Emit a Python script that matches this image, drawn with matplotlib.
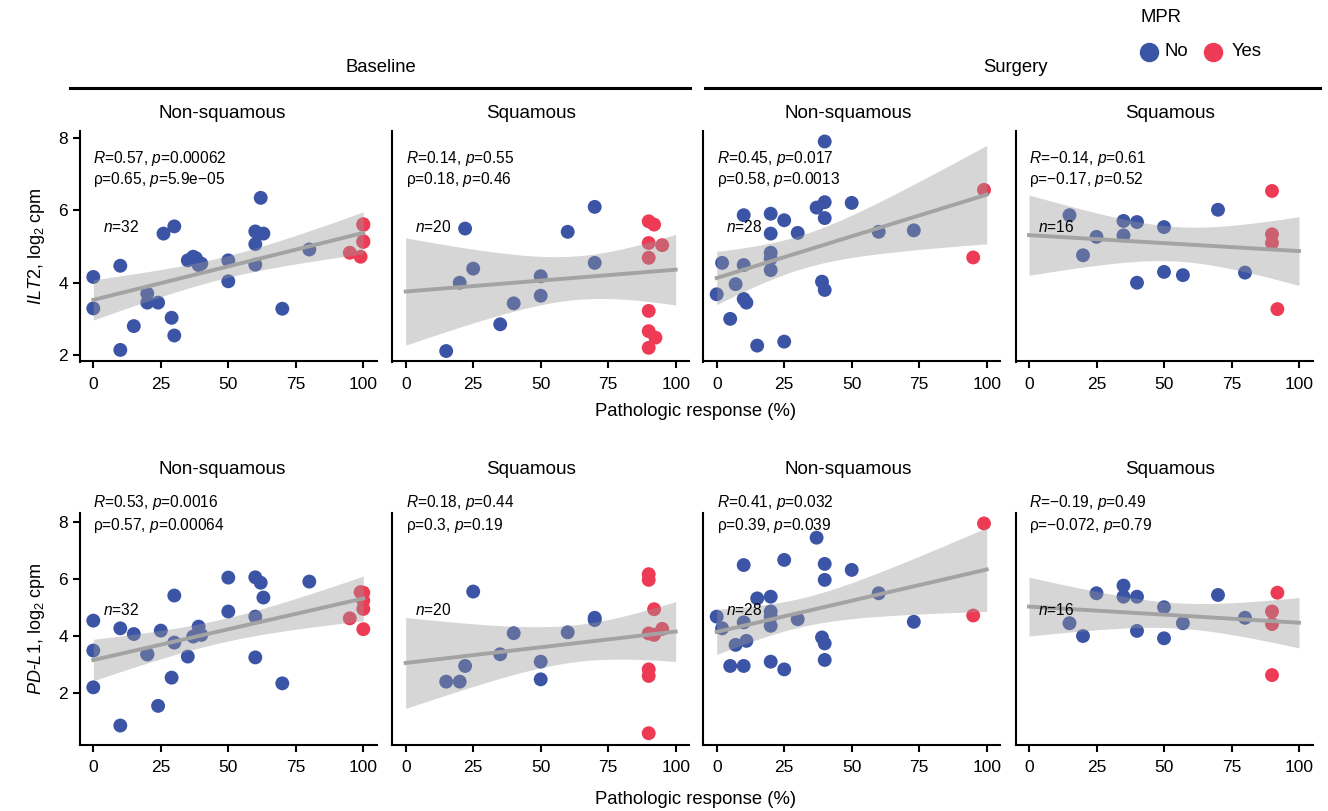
import numpy as np
import matplotlib
matplotlib.use("Agg")
import matplotlib.pyplot as plt
from matplotlib.lines import Line2D

plt.rcParams['font.family'] = ['Liberation Sans', 'DejaVu Sans']
plt.rcParams['mathtext.fontset'] = 'custom'
plt.rcParams['mathtext.rm'] = 'Liberation Sans'
plt.rcParams['mathtext.it'] = 'Liberation Sans:italic'

BLUE = "#3C54A5"
RED = "#EE3B55"

# ---- data: (pathologic response %, log2 cpm) per panel, split by MPR ----
# ILT2, baseline, non-squamous
ilt2_bn_no_x = [0, 0, 10, 10, 15, 20, 20, 24, 26, 29, 30, 30, 35, 37, 38, 39, 40, 50, 50, 60, 63, 60, 60, 62, 70, 80]
ilt2_bn_no_y = [4.16, 3.29, 4.47, 2.14, 2.80, 3.70, 3.45, 3.45, 5.36, 3.03, 5.56, 2.54, 4.62, 4.72, 4.68, 4.49, 4.53,
                4.62, 4.04, 5.42, 5.36, 5.07, 4.50, 6.35, 3.28, 4.92]
ilt2_bn_yes_x = [95, 100, 100, 100, 100, 99]
ilt2_bn_yes_y = [4.83, 5.62, 5.60, 5.13, 5.15, 4.72]

# ILT2, baseline, squamous
ilt2_bs_no_x = [22, 25, 20, 15, 35, 40, 50, 50, 60, 70, 70]
ilt2_bs_no_y = [5.50, 4.39, 4.00, 2.11, 2.85, 3.43, 4.18, 3.64, 5.41, 6.10, 4.55]
ilt2_bs_yes_x = [90, 92, 90, 95, 90, 90, 90, 92.5, 90]
ilt2_bs_yes_y = [5.70, 5.61, 5.10, 5.04, 4.69, 3.22, 2.66, 2.48, 2.20]

# ILT2, surgery, non-squamous
ilt2_sn_no_x = [40, 10, 20, 25, 20, 30, 37, 40, 40, 50, 60, 73, 2, 10, 20, 20, 20, 7, 0, 10, 11, 5, 39, 40, 15, 25]
ilt2_sn_no_y = [7.91, 5.87, 5.91, 5.73, 5.36, 5.38, 6.08, 6.23, 5.79, 6.21, 5.41, 5.45, 4.55, 4.49, 4.83, 4.67,
                4.35, 3.96, 3.68, 3.55, 3.45, 3.00, 4.03, 3.80, 2.26, 2.37]
ilt2_sn_yes_x = [99, 95]
ilt2_sn_yes_y = [6.57, 4.70]

# ILT2, surgery, squamous
ilt2_ss_no_x = [15, 20, 25, 35, 35, 40, 40, 50, 50, 57, 70, 80]
ilt2_ss_no_y = [5.87, 4.76, 5.27, 5.71, 5.31, 5.68, 4.00, 5.54, 4.30, 4.21, 6.02, 4.28]
ilt2_ss_yes_x = [90, 90, 90, 92]
ilt2_ss_yes_y = [6.54, 5.34, 5.10, 3.27]

# PD-L1, baseline, non-squamous
pdl1_bn_no_x = [0, 0, 0, 10, 10, 15, 20, 20, 24, 25, 29, 30, 30, 35, 37, 39, 40, 50, 50, 60, 62, 63, 60, 60, 70, 80]
pdl1_bn_no_y = [4.55, 3.50, 2.21, 4.28, 0.87, 4.08, 3.38, 3.36, 1.56, 4.20, 2.55, 5.43, 3.78, 3.29, 3.99, 4.34,
                4.05, 6.06, 4.87, 6.07, 5.88, 5.36, 4.69, 3.26, 2.35, 5.92]
pdl1_bn_yes_x = [95, 99, 100, 100, 100, 100]
pdl1_bn_yes_y = [4.63, 5.55, 5.53, 5.25, 4.96, 4.25]

# PD-L1, baseline, squamous
pdl1_bs_no_x = [25, 15, 20, 22, 35, 40, 50, 50, 60, 70, 70]
pdl1_bs_no_y = [5.57, 2.41, 2.41, 2.96, 3.37, 4.11, 3.11, 2.49, 4.14, 4.65, 4.57]
pdl1_bs_yes_x = [90, 90, 92, 95, 92, 90, 90, 90, 90]
pdl1_bs_yes_y = [6.18, 5.98, 4.95, 4.26, 4.05, 4.10, 2.84, 2.61, 0.60]

# PD-L1, surgery, non-squamous
pdl1_sn_no_x = [0, 2, 10, 25, 37, 40, 40, 50, 15, 20, 20, 20, 20, 10, 30, 60, 73, 7, 11, 39, 40, 5, 10, 20, 25, 40]
pdl1_sn_no_y = [4.69, 4.28, 6.50, 6.68, 7.46, 6.54, 5.98, 6.33, 5.33, 5.39, 4.87, 4.69, 4.37, 4.49, 4.60, 5.51,
                4.51, 3.70, 3.84, 3.96, 3.75, 2.96, 2.96, 3.11, 2.84, 3.17]
pdl1_sn_yes_x = [99, 95]
pdl1_sn_yes_y = [7.96, 4.73]

# PD-L1, surgery, squamous
pdl1_ss_no_x = [15, 20, 25, 35, 35, 40, 40, 50, 50, 57, 70, 80]
pdl1_ss_no_y = [4.46, 4.01, 5.51, 5.78, 5.39, 5.39, 4.19, 5.02, 3.93, 4.46, 5.45, 4.65]
pdl1_ss_yes_x = [92, 90, 90, 90]
pdl1_ss_yes_y = [5.53, 4.87, 4.43, 2.64]

stat_labels = [
    ("0.57", "0.00062", "0.65", "5.9e\u221205"),
    ("0.14", "0.55", "0.18", "0.46"),
    ("0.45", "0.017", "0.58", "0.0013"),
    ("\u22120.14", "0.61", "\u22120.17", "0.52"),
    ("0.53", "0.0016", "0.57", "0.00064"),
    ("0.18", "0.44", "0.3", "0.19"),
    ("0.41", "0.032", "0.39", "0.039"),
    ("\u22120.19", "0.49", "\u22120.072", "0.79"),
]
strip_titles = ["Non-squamous", "Squamous", "Non-squamous", "Squamous"]
genes = ["ILT2", "PD-L1"]

panels = [
    (ilt2_bn_no_x, ilt2_bn_no_y, ilt2_bn_yes_x, ilt2_bn_yes_y),
    (ilt2_bs_no_x, ilt2_bs_no_y, ilt2_bs_yes_x, ilt2_bs_yes_y),
    (ilt2_sn_no_x, ilt2_sn_no_y, ilt2_sn_yes_x, ilt2_sn_yes_y),
    (ilt2_ss_no_x, ilt2_ss_no_y, ilt2_ss_yes_x, ilt2_ss_yes_y),
    (pdl1_bn_no_x, pdl1_bn_no_y, pdl1_bn_yes_x, pdl1_bn_yes_y),
    (pdl1_bs_no_x, pdl1_bs_no_y, pdl1_bs_yes_x, pdl1_bs_yes_y),
    (pdl1_sn_no_x, pdl1_sn_no_y, pdl1_sn_yes_x, pdl1_sn_yes_y),
    (pdl1_ss_no_x, pdl1_ss_no_y, pdl1_ss_yes_x, pdl1_ss_yes_y),
]


def t975(df):
    """Approximate 97.5% quantile of Student's t"""
    z = 1.959964
    g1 = (z**3 + z) / 4
    g2 = (5 * z**5 + 16 * z**3 + 3 * z) / 96
    g3 = (3 * z**7 + 19 * z**5 + 17 * z**3 - 15 * z) / 384
    return z + g1 / df + g2 / df**2 + g3 / df**3


def lm_band(x, y, grid):
    n = len(x)
    slope, icpt = np.polyfit(x, y, 1)
    fit = icpt + slope * grid
    resid = y - (icpt + slope * x)
    s = np.sqrt(np.sum(resid**2) / (n - 2))
    se = s * np.sqrt(1 / n + (grid - x.mean())**2 / np.sum((x - x.mean())**2))
    return fit, t975(n - 2) * se


W, H = 1328, 811
fig = plt.figure(figsize=(W / 100, H / 100), dpi=100)

lefts = [79.8, 392.2, 703.2, 1015.5]
pw = 297
rows = [(131, 361.5, (1.82, 8.2)), (512.6, 745.2, (0.18, 8.34))]
strip_x = [222, 531, 848, 1170]
strip_y = [113, 470]
stat_y = [(7.43, 6.85), (8.68, 7.9)]
n_y = [5.55, 4.92]
xlab_y = [412, 800]

grid = np.linspace(0, 100, 200)

for i, (bx, by, rx, ry) in enumerate(panels):
    r, c = divmod(i, 4)
    top, bot, ylim = rows[r]
    ax = fig.add_axes([lefts[c] / W, 1 - bot / H, pw / W, (bot - top) / H])
    ax.scatter(bx, by, s=100, color=BLUE, edgecolors='none', zorder=2, clip_on=False)
    ax.scatter(rx, ry, s=100, color=RED, edgecolors='none', zorder=2, clip_on=False)

    x = np.array(bx + rx, dtype=float)
    y = np.array(by + ry, dtype=float)
    fit, half = lm_band(x, y, grid)
    ax.fill_between(grid, fit - half, fit + half, color='#999999', alpha=0.4, lw=0, zorder=3)
    ax.plot(grid, fit, color='#A3A3A3', lw=2.8, zorder=4)

    R, p1, rho, p2 = stat_labels[i]
    ax.text(0, stat_y[r][0], r"$\it{R}$=" + R + r", $\it{p}$=" + p1, fontsize=11.2, va='center', ha='left',
            zorder=5, clip_on=False)
    ax.text(0, stat_y[r][1], "\u03c1=" + rho + r", $\it{p}$=" + p2, fontsize=11.2, va='center', ha='left',
            zorder=5, clip_on=False)
    ax.text(3.5, n_y[r], r"$\it{n}$=" + str(len(x)), fontsize=11.2, va='center', ha='left', zorder=5)

    ax.set_xlim(-5, 105)
    ax.set_ylim(*ylim)
    ax.set_xticks([0, 25, 50, 75, 100])
    ax.set_yticks([2, 4, 6, 8])
    for side in ['top', 'right']:
        ax.spines[side].set_visible(False)
    for side in ['left', 'bottom']:
        ax.spines[side].set_linewidth(1.5)
    ax.tick_params(axis='both', width=1.5, length=5, labelsize=12.5, color='black')
    ax.tick_params(axis='x', pad=6)
    if c != 0:
        ax.tick_params(axis='y', left=False, labelleft=False)
    else:
        ax.set_ylabel(r"$\it{" + genes[r].replace("-", "\u2010") + "}$, log$_2$ cpm", fontsize=13, labelpad=8)

    fig.text(strip_x[c] / W, 1 - strip_y[r] / H, strip_titles[c], fontsize=13.6, ha='center', va='center')

for r in range(2):
    fig.text(695.8 / W, 1 - xlab_y[r] / H, "Pathologic response (%)", fontsize=13.3, ha='center', va='center')

# group headers
fig.text(381 / W, 1 - 68 / H, "Baseline", fontsize=13.3, ha='center', va='center')
fig.text(1015 / W, 1 - 68 / H, "Surgery", fontsize=13.3, ha='center', va='center')
fig.add_artist(Line2D([70 / W, 690 / W], [1 - 88 / H] * 2, lw=2.2, color='black'))
fig.add_artist(Line2D([705 / W, 1320 / W], [1 - 88 / H] * 2, lw=2.2, color='black'))

# legend, placed by hand
fig.text(1140 / W, 1 - 18 / H, "MPR", fontsize=13.3, ha='left', va='center')
for mx, tx, col, lab in [(1149, 1165, BLUE, "No"), (1213, 1232, RED, "Yes")]:
    fig.add_artist(Line2D([mx / W], [1 - 52 / H], marker='o', ls='', markersize=13, color=col))
    fig.text(tx / W, 1 - 52 / H, lab, fontsize=13.3, ha='left', va='center')

fig.savefig("out.png", dpi=100)
